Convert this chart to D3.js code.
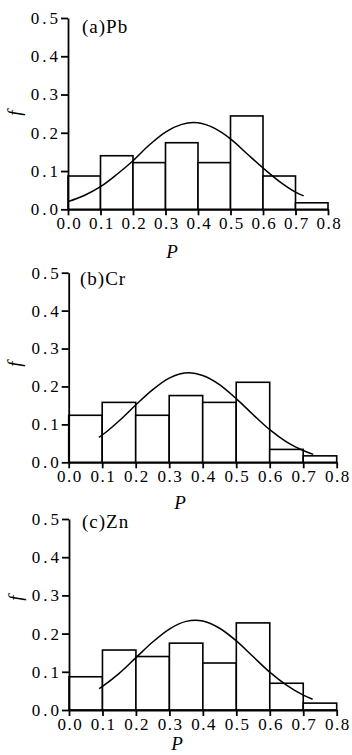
<!DOCTYPE html>
<meta charset="utf-8">
<style>
body { margin: 0; background: #fff; }
svg text { font-family: "Liberation Serif", "Times New Roman", serif; fill: #000; }
.tick text { font-size: 17px; }
.ylab text { letter-spacing: 3px; }
.xlab text { letter-spacing: 1.5px; }
.bar { fill: #fff; stroke: #000; stroke-width: 1.6px; }
.fit { fill: none; stroke: #000; stroke-width: 1.5px; }
.domain, .tick line { stroke: #000; stroke-width: 1.8px; }
</style>
<svg width="352" height="755"></svg>
<script src="https://d3js.org/d3.v7.min.js"></script>
<script>

// histogram bins (P)
var binLo = [0.0, 0.1, 0.2, 0.3, 0.4, 0.5, 0.6, 0.7];
var binHi = [0.1, 0.2, 0.3, 0.4, 0.5, 0.6, 0.7, 0.8];

// observed frequency f per bin
var freqPb = [0.087, 0.140, 0.122, 0.174, 0.122, 0.244, 0.087, 0.017];
var freqCr = [0.124, 0.158, 0.124, 0.176, 0.158, 0.211, 0.034, 0.017];
var freqZn = [0.087, 0.157, 0.140, 0.175, 0.123, 0.228, 0.070, 0.018];

// fitted curves
var fitPbX = [0.0, 0.05, 0.1, 0.15, 0.2, 0.25, 0.3, 0.35, 0.385, 0.4, 0.45, 0.5, 0.55, 0.6, 0.65, 0.7, 0.725];
var fitPbY = [0.020, 0.036, 0.059, 0.091, 0.127, 0.168, 0.202, 0.222, 0.227, 0.226, 0.212, 0.184, 0.146, 0.108, 0.073, 0.045, 0.035];
var fitCrX = [0.09, 0.1, 0.15, 0.2, 0.25, 0.3, 0.36, 0.4, 0.45, 0.5, 0.55, 0.6, 0.65, 0.7, 0.73];
var fitCrY = [0.066, 0.072, 0.109, 0.151, 0.191, 0.222, 0.236, 0.229, 0.205, 0.168, 0.126, 0.086, 0.054, 0.031, 0.021];
var fitZnX = [0.09, 0.1, 0.15, 0.2, 0.25, 0.3, 0.35, 0.377, 0.4, 0.45, 0.5, 0.55, 0.6, 0.65, 0.7, 0.728];
var fitZnY = [0.056, 0.062, 0.096, 0.137, 0.178, 0.212, 0.232, 0.235, 0.233, 0.214, 0.181, 0.140, 0.099, 0.065, 0.039, 0.028];

var xTicks = [0, 0.1, 0.2, 0.3, 0.4, 0.5, 0.6, 0.7, 0.8];
var yTicks = [0, 0.1, 0.2, 0.3, 0.4, 0.5];
var titles = ["(a)Pb", "(b)Cr", "(c)Zn"];

var svg = d3.select("svg");

// pixel layout of each panel
var panels = [
  { title: titles[0], freq: freqPb, fx: fitPbX, fy: fitPbY,
    left: 68, right: 328, bottom: 209.3, top: 18,
    labX: 82, labY: 33, pX: 172, pY: 258, fX: 21, fY: 113 },
  { title: titles[1], freq: freqCr, fx: fitCrX, fy: fitCrY,
    left: 68.7, right: 336.7, bottom: 462.3, top: 272.7,
    labX: 80, labY: 285, pX: 180, pY: 509, fX: 21, fY: 364 },
  { title: titles[2], freq: freqZn, fx: fitZnX, fy: fitZnY,
    left: 69, right: 336.7, bottom: 710, top: 519,
    labX: 82, labY: 528, pX: 177, pY: 750, fX: 22, fY: 598 }
];

panels.forEach(function(p) {
  var x = d3.scaleLinear().domain([0, 0.8]).range([p.left, p.right]);
  var y = d3.scaleLinear().domain([0, 0.5]).range([p.bottom, p.top]);
  var g = svg.append("g");

  g.selectAll("rect.bar")
    .data(p.freq)
    .enter().append("rect")
    .attr("class", "bar")
    .attr("x", function(d, i) { return x(binLo[i]); })
    .attr("width", function(d, i) { return x(binHi[i]) - x(binLo[i]); })
    .attr("y", function(d) { return y(d); })
    .attr("height", function(d) { return y(0) - y(d); });

  var line = d3.line()
    .x(function(d, i) { return x(p.fx[i]); })
    .y(function(d) { return y(d); })
    .curve(d3.curveMonotoneX);
  g.append("path").attr("class", "fit").attr("d", line(p.fy));

  var xa = g.append("g")
    .attr("class", "xlab")
    .attr("transform", "translate(0," + p.bottom + ")")
    .call(d3.axisBottom(x).tickValues(xTicks).tickFormat(d3.format(".1f"))
      .tickSizeOuter(0).tickSizeInner(6).tickPadding(2));
  xa.selectAll("text").attr("dx", "0.75px");

  var ya = g.append("g")
    .attr("class", "ylab")
    .attr("transform", "translate(" + p.left + ",0)")
    .call(d3.axisLeft(y).tickValues(yTicks).tickFormat(d3.format(".1f"))
      .tickSizeOuter(0).tickSizeInner(7).tickPadding(3));
  ya.selectAll("text").attr("dx", "3px");

  g.selectAll(".domain").attr("fill", "none");

  g.append("text")
    .attr("x", p.labX).attr("y", p.labY)
    .style("font-size", "19px")
    .style("letter-spacing", "1px")
    .text(p.title);

  g.append("text")
    .attr("x", p.pX).attr("y", p.pY)
    .attr("text-anchor", "middle")
    .style("font-size", "19px")
    .style("font-style", "italic")
    .text("P");

  g.append("text")
    .attr("transform", "translate(" + p.fX + "," + p.fY + ") rotate(-90)")
    .attr("text-anchor", "middle")
    .style("font-size", "19px")
    .style("font-style", "italic")
    .text("f");
});

</script>
